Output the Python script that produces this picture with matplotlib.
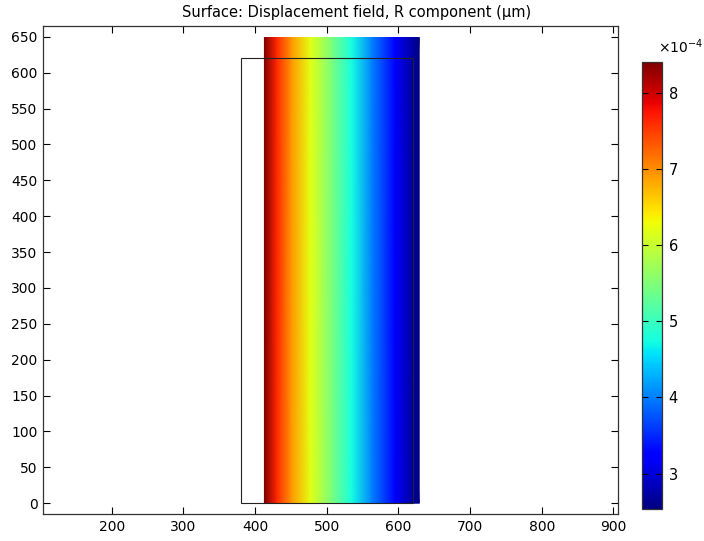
import numpy as np
import matplotlib
matplotlib.use("Agg")
import matplotlib.pyplot as plt
from matplotlib.patches import Rectangle
from matplotlib.ticker import FuncFormatter

# ---- data ----
# radial positions across the deformed surface and the R displacement (um)
r_pos = [413, 430, 451, 477, 507, 535, 563, 595, 629]
u_r = [8.41e-4, 7.65e-4, 6.94e-4, 6.21e-4, 5.47e-4, 4.74e-4, 4.00e-4, 3.27e-4, 2.53e-4]
z_span = [0, 649]

# undeformed outline
outline_r = [380, 620]
outline_z = [0, 620]

x_ticks = [200, 300, 400, 500, 600, 700, 800, 900]
y_ticks = [0, 50, 100, 150, 200, 250, 300, 350, 400, 450, 500, 550, 600, 650]
cbar_ticks = [3e-4, 4e-4, 5e-4, 6e-4, 7e-4, 8e-4]

plt.rcParams["font.family"] = "DejaVu Sans"
plt.rcParams["font.size"] = 10

fig = plt.figure(figsize=(7.04, 5.41), dpi=100)
ax = fig.add_axes([0.0611, 0.0499, 0.8163, 0.902])
cax = fig.add_axes([0.9124, 0.0586, 0.0276, 0.8273])

R, Z = np.meshgrid(r_pos, z_span)
U = np.vstack([u_r, u_r])
mesh = ax.pcolormesh(R, Z, U, cmap="jet", shading="gouraud",
                     vmin=min(u_r), vmax=max(u_r), zorder=1)

ax.add_patch(Rectangle((outline_r[0], outline_z[0]),
                       outline_r[1] - outline_r[0],
                       outline_z[1] - outline_z[0],
                       fill=False, edgecolor="#222222", linewidth=0.8, zorder=2))

ax.set_xlim(104, 906)
ax.set_ylim(-15, 665)
ax.set_xticks(x_ticks)
ax.set_yticks(y_ticks)
ax.tick_params(direction="in", top=True, right=True, length=5, width=0.8,
               labelsize=10, pad=4)
for s in ax.spines.values():
    s.set_linewidth(0.9)
    s.set_color("#333333")

fig.text(0.507, 0.977, "Surface: Displacement field, R component (\u00b5m)",
         ha="center", va="center", fontsize=10.5)

cb = fig.colorbar(mesh, cax=cax, ticks=cbar_ticks)
cb.ax.yaxis.set_major_formatter(FuncFormatter(lambda v, p: "%g" % round(v * 1e4, 6)))
cb.ax.tick_params(direction="in", left=True, right=True, length=4, width=0.8,
                  labelsize=10.5, pad=5)
cb.outline.set_linewidth(0.9)
cb.outline.set_edgecolor("#333333")
fig.text(0.966, 0.913, r"$\times10^{-4}$", ha="center", va="center", fontsize=10)

fig.savefig("out.png", dpi=100)
